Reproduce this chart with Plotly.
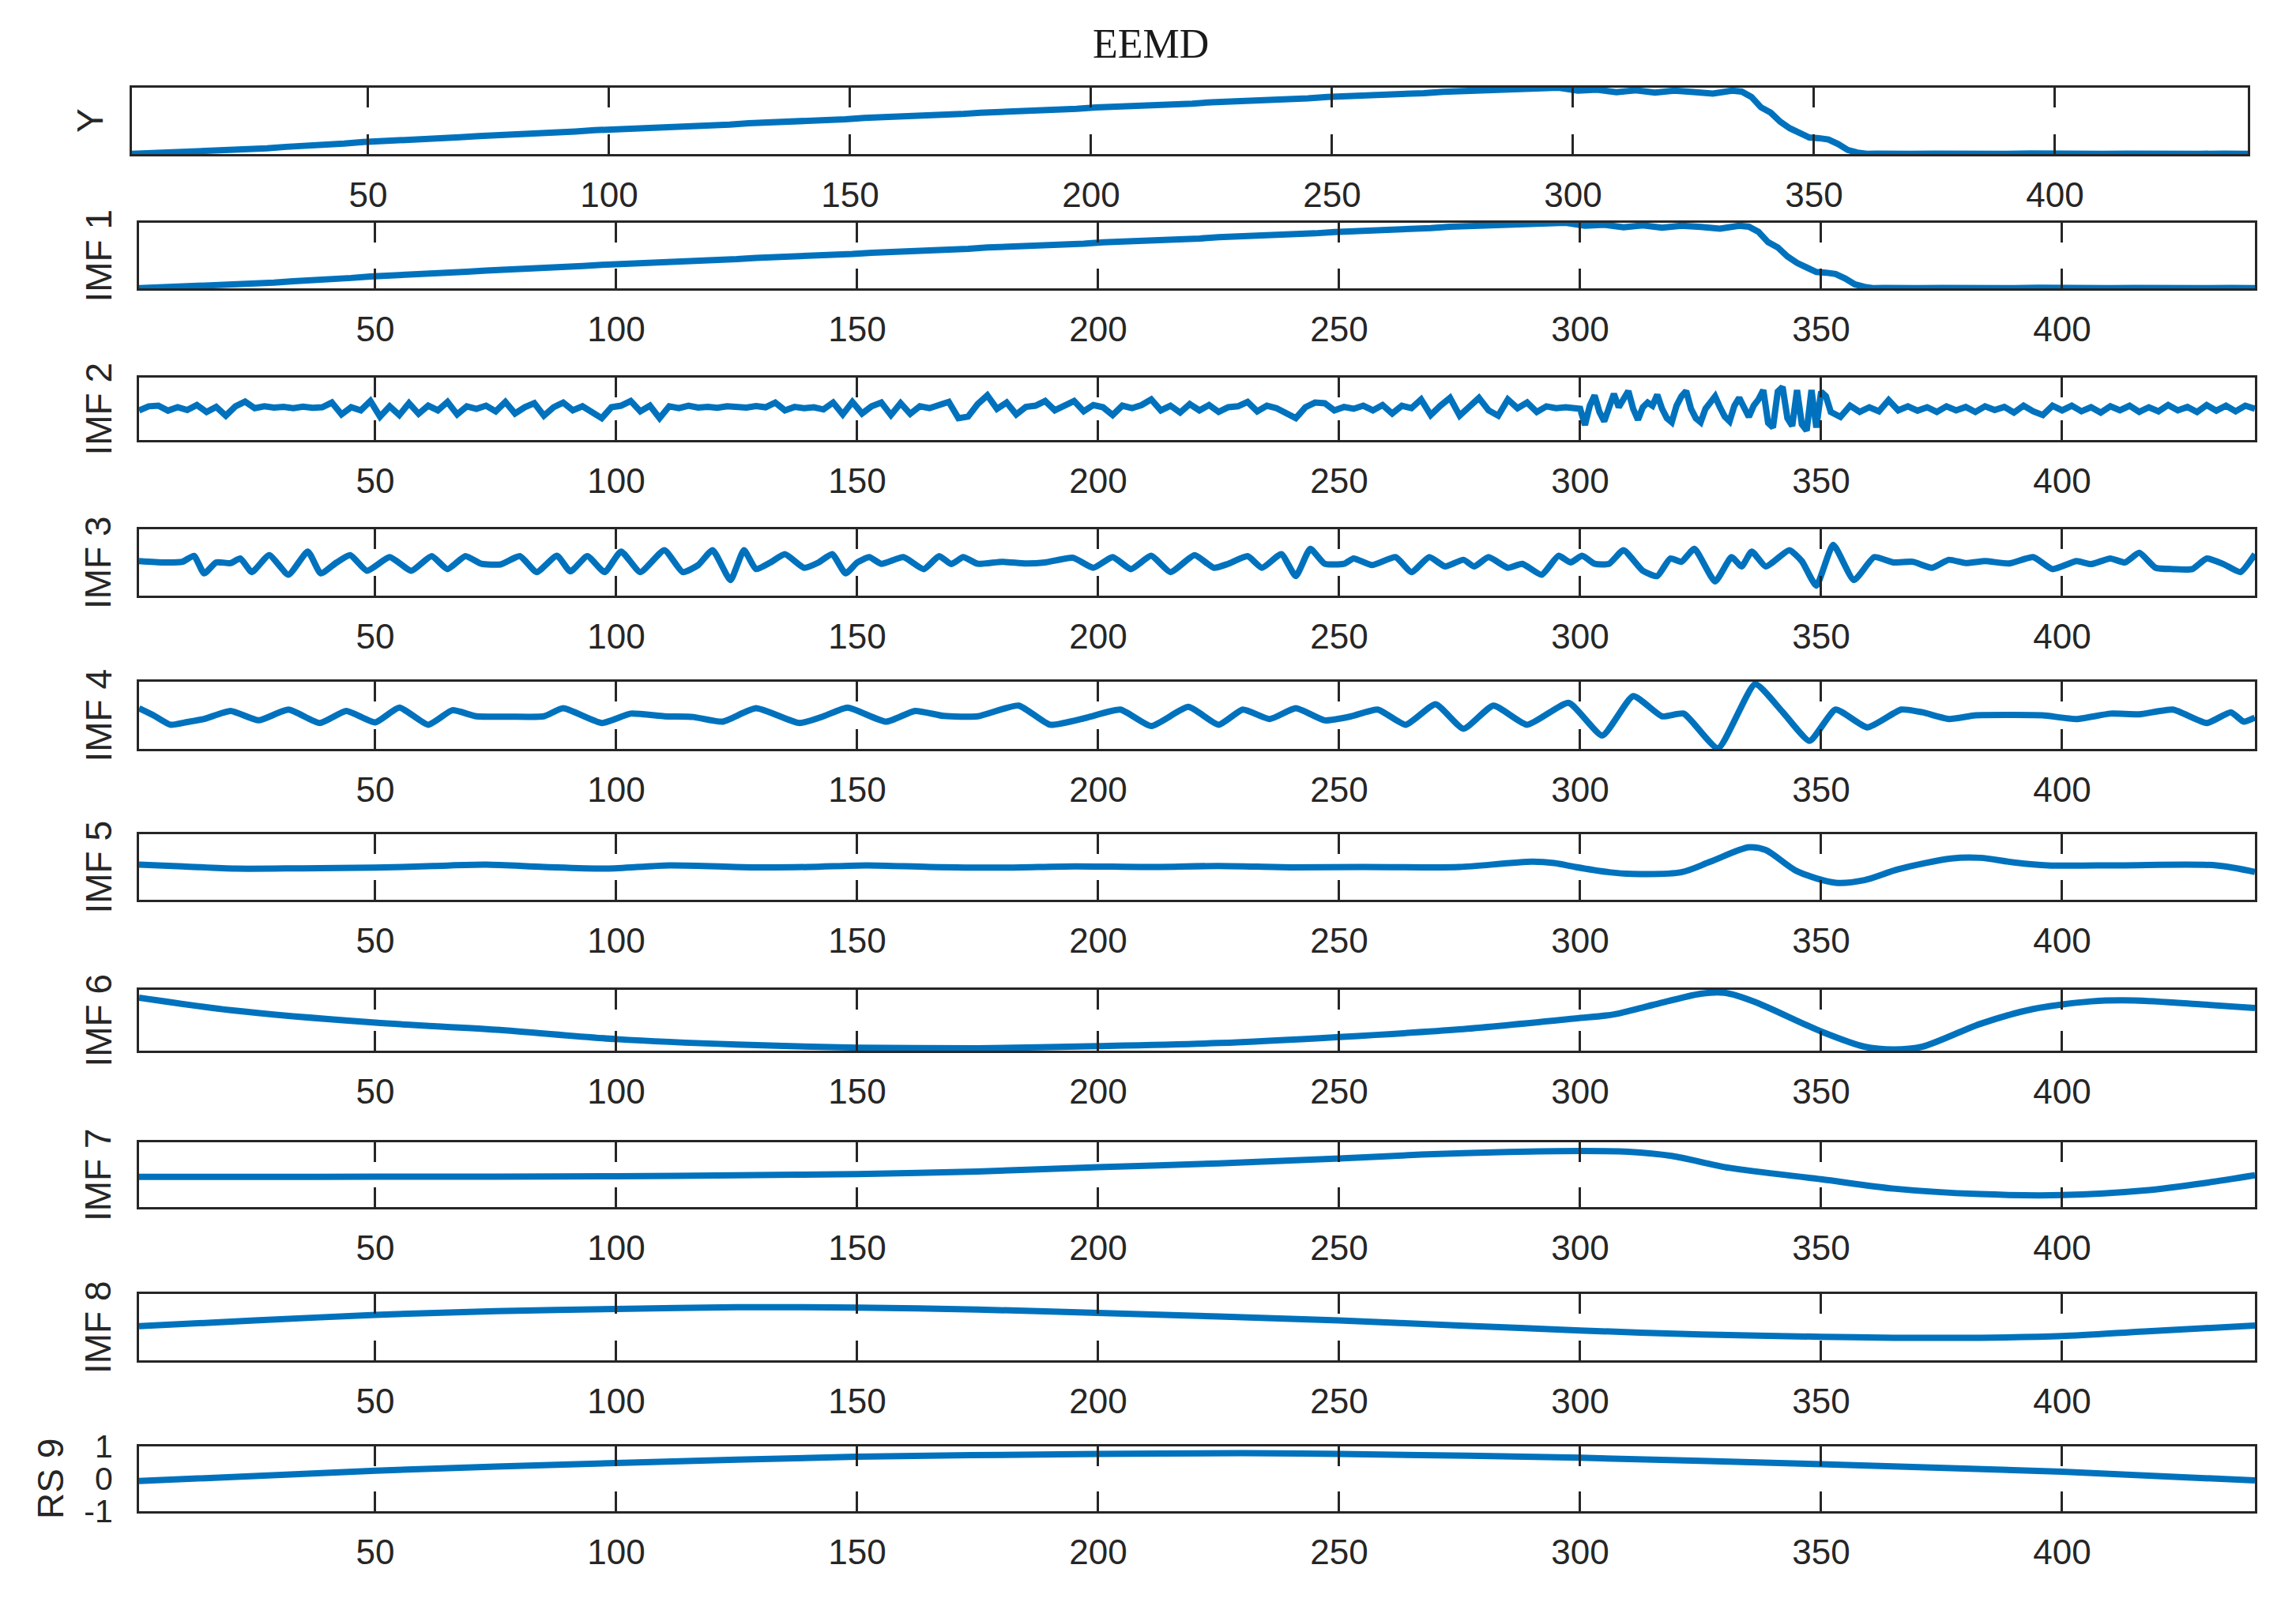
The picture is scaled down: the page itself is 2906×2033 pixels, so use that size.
import numpy as np
import plotly.graph_objects as go

W, H = 2906, 2033
LINE = "#0072BD"
AX = "#262626"
FONT = "Liberation Sans"

# ---------------- data (normalised units) ----------------
x_trend = np.concatenate([np.arange(1, 334, 4), np.arange(335, 366, 2), np.arange(370, 441, 5)])
y_trend = [
    -0.010, 0.000, 0.012, 0.018, 0.030, 0.042, 0.062, 0.075, 0.098, 0.108,
    0.132, 0.148, 0.172, 0.182, 0.203, 0.212, 0.232, 0.243, 0.262, 0.272,
    0.293, 0.302, 0.323, 0.332, 0.352, 0.362, 0.378, 0.387, 0.403, 0.412,
    0.433, 0.438, 0.458, 0.467, 0.483, 0.492, 0.513, 0.518, 0.538, 0.546,
    0.563, 0.572, 0.593, 0.598, 0.618, 0.626, 0.643, 0.652, 0.673, 0.677,
    0.698, 0.706, 0.723, 0.732, 0.753, 0.757, 0.778, 0.786, 0.803, 0.812,
    0.833, 0.837, 0.858, 0.866, 0.883, 0.892, 0.913, 0.917, 0.938, 0.946,
    0.963, 0.968, 0.980, 0.985, 1.000, 0.955, 0.970, 0.930, 0.960, 0.925,
    0.955, 0.935, 0.910, 0.955,
    0.94, 0.86, 0.70, 0.62, 0.48, 0.38, 0.30, 0.24, 0.23, 0.21, 0.14, 0.05, 0.01, -0.01, -0.005, -0.01,
    -0.010, -0.005, -0.012, -0.006, -0.010, -0.004, -0.011, -0.007, -0.010, -0.005, -0.012, -0.006, -0.009, -0.005, -0.008,
]

x_imf2 = np.concatenate([np.arange(1, 300, 2), np.arange(300, 353, 1), np.arange(354, 441, 2)])
imf2_a = [
    -0.05, 0.08, 0.10, -0.06, 0.05, -0.04, 0.12, -0.10, 0.06, -0.22,
    0.08, 0.23, 0.02, 0.08, 0.04, 0.06, 0.02, 0.07, 0.03, 0.05,
    0.20, -0.18, 0.05, -0.05, 0.25, -0.25, 0.08, -0.20, 0.18, -0.16,
    0.10, -0.05, 0.22, -0.18, 0.08, 0.00, 0.10, -0.08, 0.22, -0.15,
    0.05, 0.18, -0.22, 0.05, 0.20, -0.05, 0.08, -0.12, -0.30, 0.05,
    0.10, 0.25, -0.08, 0.10, -0.30, 0.08, 0.02, 0.10, 0.04, 0.06,
    0.03, 0.08, 0.05, 0.04, 0.09, 0.05, 0.20, -0.05, 0.06, 0.02,
    0.05, -0.02, 0.20, -0.18, 0.22, -0.15, 0.08, 0.20, -0.20, 0.18,
    -0.16, 0.08, 0.02, 0.10, 0.22, -0.30, -0.25, 0.15, 0.43, 0.00,
    0.20, -0.18, 0.06, 0.10, 0.25, -0.05, 0.10, 0.25, -0.08, 0.12,
    0.05, -0.20, 0.10, 0.02, 0.12, 0.30, -0.05, 0.10, -0.12, 0.15,
    -0.05, 0.12, -0.10, 0.05, 0.08, 0.22, -0.08, 0.10, 0.02, -0.12,
    -0.30, 0.05, 0.20, 0.18, -0.05, 0.06, 0.00, 0.10, -0.05, 0.12,
    -0.15, 0.10, 0.02, 0.30, -0.20, 0.10, 0.35, -0.22, 0.10, 0.35,
    -0.05, -0.22, 0.30, 0.02, 0.20, -0.10, 0.08, 0.02, 0.05, 0.00,
]
imf2_b = [
    0.00, -0.52, 0.10, 0.43, -0.10, -0.40, 0.10, 0.48, 0.05, 0.30,
    0.57, 0.00, -0.35, 0.05, 0.20, 0.10, 0.45, 0.00, -0.30, -0.43,
    0.10, 0.40, 0.57, 0.00, -0.30, -0.43, 0.00, 0.20, 0.40, 0.05,
    -0.25, -0.40, 0.10, 0.35, 0.00, -0.26, 0.10, 0.30, 0.60, -0.45,
    -0.60, 0.55, 0.70, -0.30, -0.55, 0.60, -0.50, -0.70, 0.60, -0.60,
    0.55, 0.40, -0.10,
]
imf2_c = [
    -0.26, 0.10, -0.10, 0.05, -0.08, 0.28, -0.05, 0.08, -0.06, 0.05,
    -0.10, 0.08, -0.05, 0.06, -0.10, 0.08, -0.04, 0.06, -0.12, 0.10,
    -0.08, -0.20, 0.10, -0.05, 0.10, -0.08, 0.05, -0.12, 0.08, -0.05,
    0.10, -0.10, 0.05, -0.08, 0.12, -0.05, 0.06, -0.10, 0.12, -0.06,
    0.10, -0.08, 0.10, 0.00,
]
y_imf2 = imf2_a + imf2_b + imf2_c

x_imf3 = [1, 6, 10, 12.4, 14.5, 17, 20, 22, 24.4, 28, 32, 36, 38.7, 42, 44.8, 48.3, 53, 57.5, 61.7, 65,
          68.7, 72, 76, 80, 83.5, 87.7, 90.5, 94, 97.6, 101, 105, 110, 113.8, 117, 120, 123.7, 126.5, 129, 132, 135,
          139, 142, 144.8, 147.6, 150, 152.5, 155, 159.6, 163.8, 167, 169.5, 172, 175, 180, 185, 189, 194.8, 199, 203, 206.8,
          211, 215, 220, 224, 227, 231, 234, 238, 241, 244, 247, 251, 253, 256.8, 261.7, 265, 268.7, 272, 275.8, 278,
          281, 285, 288, 292, 295.5, 298, 300.4, 303, 306, 309, 313, 316, 318.7, 321, 323.7, 328, 331.4, 333.5, 335.6, 338.5,
          343.4, 346, 349, 352.5, 356.8, 361, 365, 369, 373, 376.5, 380, 384, 389, 394, 398, 403, 406, 410, 413, 416,
          419.4, 423, 427, 430, 433.5, 437, 440]
y_imf3 = [0.04, 0.00, 0.02, 0.20, -0.33, 0.00, -0.02, 0.12, -0.29, 0.22, -0.37, 0.33, -0.33, 0.00, 0.22, -0.25, 0.16, -0.25, 0.19, -0.20,
          0.19, -0.04, -0.06, 0.19, -0.29, 0.20, -0.27, 0.19, -0.29, 0.33, -0.29, 0.37, -0.29, -0.08, 0.37, -0.53, 0.37, -0.20, 0.00, 0.25,
          -0.16, 0.00, 0.25, -0.33, 0.00, 0.16, -0.04, 0.16, -0.20, 0.19, -0.05, 0.16, -0.04, 0.02, -0.03, 0.00, 0.14, -0.16, 0.16, -0.20,
          0.20, -0.29, 0.22, -0.16, -0.04, 0.19, -0.16, 0.25, -0.41, 0.41, -0.04, -0.04, 0.12, -0.08, 0.16, -0.29, 0.16, -0.12, 0.08, -0.12,
          0.16, -0.16, -0.04, -0.37, 0.20, 0.00, 0.20, -0.04, -0.04, 0.37, -0.25, -0.41, 0.12, 0.02, 0.41, -0.57, 0.16, -0.12, 0.33, -0.12,
          0.37, 0.04, -0.70, 0.53, -0.53, 0.16, 0.00, 0.02, -0.16, 0.08, -0.02, 0.04, -0.03, 0.16, -0.20, 0.04, -0.05, 0.12, 0.00, 0.29,
          -0.16, -0.20, -0.20, 0.12, -0.05, -0.29, 0.25]

x_imf4 = [1, 4, 7.5, 11, 14.5, 20, 25.8, 32, 38.5, 44, 50, 55, 61, 66, 71, 78, 85, 89, 97, 103,
          110, 116, 122, 129, 138, 143, 148, 156, 162, 168, 175, 183.5, 190, 197.6, 204.6, 211, 218.7, 225, 230, 235.6,
          241, 247, 252.5, 258, 263.8, 270, 275.8, 282, 289, 297.6, 304.6, 311, 317, 321.5, 328.6, 336.3, 342, 347.6, 353, 359.6,
          366.6, 371, 376.5, 382, 390, 396, 403, 410, 416, 423, 430, 435, 437.7, 440]
y_imf4 = [0.21, 0.00, -0.28, -0.20, -0.11, 0.13, -0.15, 0.17, -0.23, 0.13, -0.21, 0.23, -0.28, 0.15, -0.03, -0.04, -0.03, 0.21, -0.23, 0.05,
          -0.03, -0.05, -0.19, 0.21, -0.23, -0.03, 0.23, -0.19, 0.13, -0.02, -0.03, 0.29, -0.28, -0.07, 0.17, -0.32, 0.25, -0.28, 0.17, -0.11,
          0.21, -0.15, -0.03, 0.17, -0.28, 0.33, -0.40, 0.29, -0.28, 0.37, -0.60, 0.57, -0.03, 0.05, -0.98, 0.93, 0.10, -0.76, 0.17, -0.36,
          0.17, 0.09, -0.11, 0.00, 0.01, 0.00, -0.11, 0.05, 0.03, 0.17, -0.23, 0.09, -0.19, -0.07]

x_imf5 = [1, 10, 21, 35, 50, 62, 73, 85, 98, 111, 128, 140, 152, 165, 180, 195, 210, 225, 240, 255,
          267, 275, 290, 294.6, 299, 306, 310.7, 321, 327, 335, 338.5, 345, 353, 359, 366, 377, 383, 390, 397, 412,
          432, 440]
y_imf5 = [0.07, 0.02, -0.05, -0.04, -0.02, 0.03, 0.07, 0.00, -0.05, 0.05, -0.01, 0.00, 0.05, 0.00, -0.02, 0.02, 0.00, 0.03, -0.01, 0.00,
          -0.01, 0.00, 0.16, 0.12, 0.00, -0.16, -0.21, -0.16, 0.16, 0.60, 0.52, -0.13, -0.48, -0.40, -0.07, 0.26, 0.28, 0.14, 0.05, 0.05,
          0.05, -0.15]

x_imf6 = [1, 20, 50, 75, 100, 125, 150, 175, 200, 225, 250, 275, 299, 307, 315, 325, 330, 336, 350, 359,
          365, 371, 383, 394, 406, 415, 429, 440]
y_imf6 = [0.74, 0.33, -0.08, -0.31, -0.62, -0.80, -0.90, -0.92, -0.85, -0.75, -0.55, -0.30, 0.06, 0.19, 0.50, 0.87, 0.90, 0.62, -0.37, -0.87,
          -0.96, -0.87, -0.12, 0.37, 0.62, 0.65, 0.52, 0.40]

x_imf7 = [1, 25, 50, 75, 100, 125, 150, 175, 200, 225, 250, 267, 285, 300, 310, 319, 331, 350, 365, 383,
          400, 417, 430, 440]
y_imf7 = [-0.07, -0.07, -0.06, -0.06, -0.05, -0.02, 0.02, 0.10, 0.23, 0.35, 0.50, 0.62, 0.70, 0.73, 0.71, 0.58, 0.21, -0.14, -0.43, -0.60,
          -0.63, -0.49, -0.25, -0.02]

x_imf8 = [1, 25, 50, 75, 100, 125, 150, 175, 200, 225, 250, 275, 300, 325, 350, 365, 383, 400, 417, 440]
y_imf8 = [0.03, 0.20, 0.37, 0.48, 0.55, 0.60, 0.59, 0.53, 0.43, 0.32, 0.20, 0.05, -0.10, -0.22, -0.29, -0.32, -0.32, -0.27, -0.13, 0.05]

x_rs9 = [1, 50, 100, 150, 200, 230, 250, 300, 350, 400, 440]
y_rs9 = [-0.07, 0.25, 0.49, 0.68, 0.77, 0.79, 0.77, 0.65, 0.45, 0.22, -0.05]

labels = ["Y", "IMF 1", "IMF 2", "IMF 3", "IMF 4", "IMF 5", "IMF 6", "IMF 7", "IMF 8", "RS 9"]
x_ticks = [50, 100, 150, 200, 250, 300, 350, 400]
rs_ticks = [-1, 0, 1]
rs_ticktext = ["-1", "0", "1"]
title_text = "EEMD"

series = [
    (x_trend, y_trend, "linear", None),
    (x_trend, y_trend, "linear", None),
    (x_imf2, y_imf2, "linear", None),
    (x_imf3, y_imf3, "spline", 0.5),
    (x_imf4, y_imf4, "spline", 0.5),
    (x_imf5, y_imf5, "spline", 0.8),
    (x_imf6, y_imf6, "spline", 0.8),
    (x_imf7, y_imf7, "spline", 0.8),
    (x_imf8, y_imf8, "spline", 0.8),
    (x_rs9, y_rs9, "spline", 0.8),
]

# ---------------- layout (pixel boxes) ----------------
tops = [111, 282, 478, 670, 863, 1056, 1253, 1446, 1638, 1831]
bots = [195, 365, 557, 754, 948, 1139, 1330, 1528, 1722, 1913]
lefts = [167] + [176] * 9
rights = [2845] + [2854] * 9
label_x = [114] + [124] * 8 + [64]

fig = go.Figure()
layout = dict(
    width=W, height=H, autosize=False,
    margin=dict(l=0, r=0, t=0, b=0, pad=0, autoexpand=False),
    paper_bgcolor="white", plot_bgcolor="white",
    showlegend=False,
    font=dict(family=FONT, color=AX, size=44),
)
annotations = []
for i, (xs, ys, shape, smooth) in enumerate(series):
    n = i + 1
    xa = "x" if n == 1 else f"x{n}"
    ya = "y" if n == 1 else f"y{n}"
    line = dict(color=LINE, width=8, shape=shape)
    if smooth is not None:
        line["smoothing"] = smooth
    fig.add_trace(go.Scatter(
        x=xs, y=ys, mode="lines", xaxis=xa, yaxis=ya,
        line=line, hoverinfo="skip",
    ))
    if i < 2:
        yr = [min(y_trend), max(y_trend)]
    else:
        yr = [-1, 1]
    xkey = "xaxis" if n == 1 else f"xaxis{n}"
    ykey = "yaxis" if n == 1 else f"yaxis{n}"
    layout[xkey] = dict(
        domain=[lefts[i] / W, rights[i] / W], anchor=ya, range=[1, 440],
        tickvals=x_ticks, ticks="inside", ticklen=25, tickwidth=2.5, tickcolor=AX,
        showline=True, linecolor=AX, linewidth=3, mirror="ticks",
        showgrid=False, zeroline=False, automargin=False,
        tickfont=dict(family=FONT, size=44, color=AX), ticklabelstandoff=11,
    )
    ydict = dict(
        domain=[1 - bots[i] / H, 1 - tops[i] / H], anchor=xa, range=yr,
        showline=True, linecolor=AX, linewidth=3, mirror=True,
        showgrid=False, zeroline=False, ticks="", automargin=False,
    )
    if i == 9:
        ydict.update(tickvals=rs_ticks, ticktext=rs_ticktext, showticklabels=True,
                     tickfont=dict(family=FONT, size=41, color=AX), ticklabelstandoff=22)
    else:
        ydict.update(showticklabels=False)
    layout[ykey] = ydict
    annotations.append(dict(
        text=labels[i], xref="paper", yref="paper",
        x=label_x[i] / W, y=1 - (tops[i] + bots[i]) / 2 / H,
        xanchor="center", yanchor="middle", textangle=-90, showarrow=False,
        font=dict(family=FONT, size=46, color=AX),
    ))

annotations.append(dict(
    text=title_text, xref="paper", yref="paper", x=1456 / W, y=1 - 56 / H,
    xanchor="center", yanchor="middle", showarrow=False,
    font=dict(family="Liberation Serif", size=52, color="#1a1a1a"),
))
layout["annotations"] = annotations
fig.update_layout(**layout)

fig.write_html("out.html", config={"displayModeBar": False},
               post_script="document.body.style.margin='0';document.body.style.overflow='hidden';")
